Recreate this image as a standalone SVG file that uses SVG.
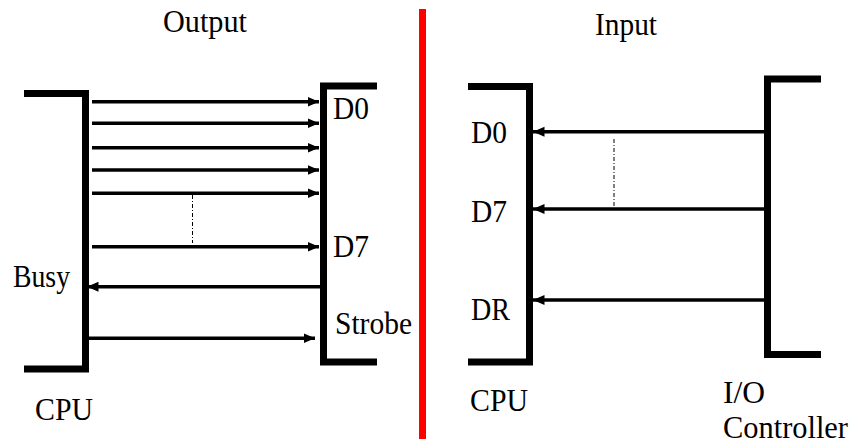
<svg xmlns="http://www.w3.org/2000/svg" width="849" height="444" viewBox="0 0 849 444">
<style>
text{font-family:'Liberation Serif','Times New Roman','DejaVu Serif',serif;font-size:31px;fill:#000}
.br{fill:none;stroke:#000;stroke-width:7;stroke-linejoin:miter}
.ar{stroke:#000;stroke-width:3.5;fill:none}
.dd{stroke:#000;stroke-width:1;stroke-dasharray:4 2 1 2;fill:none}
</style>
<defs>
<marker id="ah" markerUnits="userSpaceOnUse" markerWidth="12" markerHeight="11" refX="11.5" refY="5.5" orient="auto">
<path d="M0,0.5 L11.5,5.5 L0,10.5 Z" fill="#000"/>
</marker>
</defs>
<rect width="849" height="444" fill="#fff"/>
<g id="titles">
<text x="163" y="32" textLength="84" lengthAdjust="spacingAndGlyphs">Output</text>
<text x="595" y="35" textLength="62" lengthAdjust="spacingAndGlyphs">Input</text>
</g>
<g id="divider">
<line x1="422.5" y1="9" x2="422.5" y2="439" stroke="#ff0000" stroke-width="7"/>
</g>
<g id="cpu-out">
<polyline class="br" points="24,93.5 85.5,93.5 85.5,369 24,369"/>
<text x="13" y="287" textLength="57" lengthAdjust="spacingAndGlyphs">Busy</text>
<text x="35" y="420" textLength="58" lengthAdjust="spacingAndGlyphs">CPU</text>
</g>
<g id="device-out">
<polyline class="br" points="377,86 323.5,86 323.5,362 377,362"/>
<text x="333" y="119" textLength="36" lengthAdjust="spacingAndGlyphs">D0</text>
<text x="333" y="257" textLength="36" lengthAdjust="spacingAndGlyphs">D7</text>
<text x="335" y="334" textLength="77" lengthAdjust="spacingAndGlyphs">Strobe</text>
</g>
<g id="cpu-in">
<polyline class="br" points="468,86.5 529.5,86.5 529.5,362 468,362"/>
<text x="471" y="143" textLength="36" lengthAdjust="spacingAndGlyphs">D0</text>
<text x="471" y="222" textLength="36" lengthAdjust="spacingAndGlyphs">D7</text>
<text x="471" y="320" textLength="39" lengthAdjust="spacingAndGlyphs">DR</text>
<text x="470" y="411" textLength="58" lengthAdjust="spacingAndGlyphs">CPU</text>
</g>
<g id="io-controller">
<polyline class="br" points="821,79 767.5,79 767.5,354.5 821,354.5"/>
<text x="723" y="403" textLength="42" lengthAdjust="spacingAndGlyphs">I/O</text>
<text x="723" y="438" textLength="125" lengthAdjust="spacingAndGlyphs">Controller</text>
</g>
<g id="connectors">
<line class="ar" x1="92" y1="101.7" x2="319" y2="101.7" marker-end="url(#ah)"/>
<line class="ar" x1="92" y1="123.3" x2="319" y2="123.3" marker-end="url(#ah)"/>
<line class="ar" x1="92" y1="147.7" x2="319" y2="147.7" marker-end="url(#ah)"/>
<line class="ar" x1="92" y1="170" x2="319" y2="170" marker-end="url(#ah)"/>
<line class="ar" x1="92" y1="193.3" x2="319" y2="193.3" marker-end="url(#ah)"/>
<line class="ar" x1="92" y1="246.7" x2="319" y2="246.7" marker-end="url(#ah)"/>
<line class="ar" x1="320" y1="286.7" x2="87" y2="286.7" marker-end="url(#ah)"/>
<line class="ar" x1="89" y1="338.3" x2="315" y2="338.3" marker-end="url(#ah)"/>
<line class="dd" x1="192.5" y1="195" x2="192.5" y2="243"/>
<line class="ar" x1="765" y1="131.7" x2="533" y2="131.7" marker-end="url(#ah)"/>
<line class="ar" x1="765" y1="209" x2="533" y2="209" marker-end="url(#ah)"/>
<line class="ar" x1="765" y1="300" x2="533" y2="300" marker-end="url(#ah)"/>
<line class="dd" x1="614" y1="139" x2="614" y2="207"/>
</g>
</svg>
